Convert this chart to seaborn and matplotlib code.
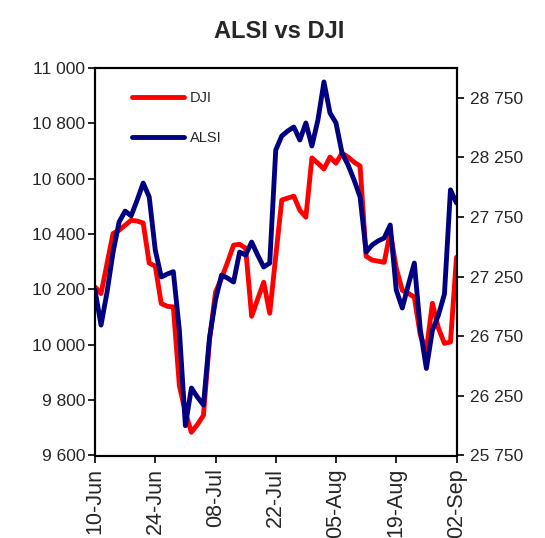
import pandas as pd
import matplotlib.pyplot as plt
import seaborn as sns

# valores (dias uteis de 10-Jun a 02-Sep)
dji = [10209, 10185, 10294, 10402, 10414, 10432, 10450, 10447, 10440, 10295,
       10284, 10149, 10139, 10137, 9853, 9756, 9684, 9712, 9745, 10016,
       10190, 10240, 10298, 10360, 10363, 10349, 10103, 10165, 10226, 10114,
       10320, 10523, 10530, 10537, 10486, 10461, 10675, 10656, 10635, 10678,
       10656, 10693, 10678, 10660, 10646, 10320, 10306, 10302, 10298, 10407,
       10277, 10197, 10186, 10172, 10034, 9980, 10150, 10060, 10005, 10010,
       10316]
alsi = [27138, 26844, 27120, 27456, 27708, 27800, 27760, 27893, 28035, 27918,
        27474, 27247, 27272, 27292, 26802, 26000, 26316, 26240, 26174, 26736,
        27054, 27263, 27238, 27205, 27456, 27431, 27540, 27431, 27331, 27364,
        28312, 28430, 28472, 28505, 28396, 28539, 28346, 28564, 28883, 28623,
        28539, 28287, 28187, 28061, 27918, 27457, 27516, 27550, 27574, 27683,
        27138, 26987, 27180, 27364, 26802, 26480, 26800, 26928, 27104, 27978,
        27868]
tick_pos = [0, 10, 20, 30, 40, 50, 60]
tick_labels = ['10-Jun', '24-Jun', '08-Jul', '22-Jul', '05-Aug', '19-Aug', '02-Sep']
dji_ticks = [9600, 9800, 10000, 10200, 10400, 10600, 10800, 11000]
alsi_ticks = [25750, 26250, 26750, 27250, 27750, 28250, 28750]

df = pd.DataFrame({'dia': range(len(dji)), 'DJI': dji, 'ALSI': alsi})

sns.set_style('ticks')
plt.rcParams['font.family'] = ['Liberation Sans', 'DejaVu Sans']

fig = plt.figure(figsize=(5.45, 5.38), dpi=100)
ax = fig.add_axes([95 / 545, 1 - 455.5 / 538, 361.5 / 545, 387.5 / 538])
ax2 = ax.twinx()

sns.lineplot(data=df, x='dia', y='DJI', ax=ax, color='#FF0000', linewidth=3.5, label='DJI')
sns.lineplot(data=df, x='dia', y='ALSI', ax=ax2, color='#000080', linewidth=3.5, label='ALSI')

ax.set_xlim(0, 60)
ax.set_ylim(9600, 11000)
ax2.set_ylim(25750, 29000)
ax.set_xticks(tick_pos)
ax.set_xticklabels(tick_labels, rotation=90, fontsize=15.5)
ax.set_yticks(dji_ticks)
ax.set_yticklabels([f'{v:,}'.replace(',', ' ') for v in dji_ticks], fontsize=12.5)
ax2.set_yticks(alsi_ticks)
ax2.set_yticklabels([f'{v:,}'.replace(',', ' ') for v in alsi_ticks], fontsize=12.5)
ax.set_xlabel('')
ax.set_ylabel('')
ax2.set_ylabel('')
ax.tick_params(direction='out', length=5, width=1.2, color='black', pad=2)
ax.tick_params(axis='x', pad=4)
ax2.tick_params(direction='out', length=5, width=1.2, color='black', pad=5)

for a in (ax, ax2):
    for s in a.spines.values():
        s.set_visible(True)
        s.set_color('black')
        s.set_linewidth(1.5)

# legenda unica dentro do grafico
h1, l1 = ax.get_legend_handles_labels()
h2, l2 = ax2.get_legend_handles_labels()
ax.get_legend().remove()
ax2.legend(h1 + h2, l1 + l2, loc='upper left', bbox_to_anchor=(0.102, 0.94),
           frameon=False, fontsize=10.5, handlelength=3.6, handletextpad=0.35,
           labelspacing=1.8, borderpad=0, borderaxespad=0)

fig.text(0.512, 0.942, 'ALSI vs DJI', ha='center', va='center',
         fontsize=17, fontweight='bold')

plt.savefig('out.png', dpi=100)
